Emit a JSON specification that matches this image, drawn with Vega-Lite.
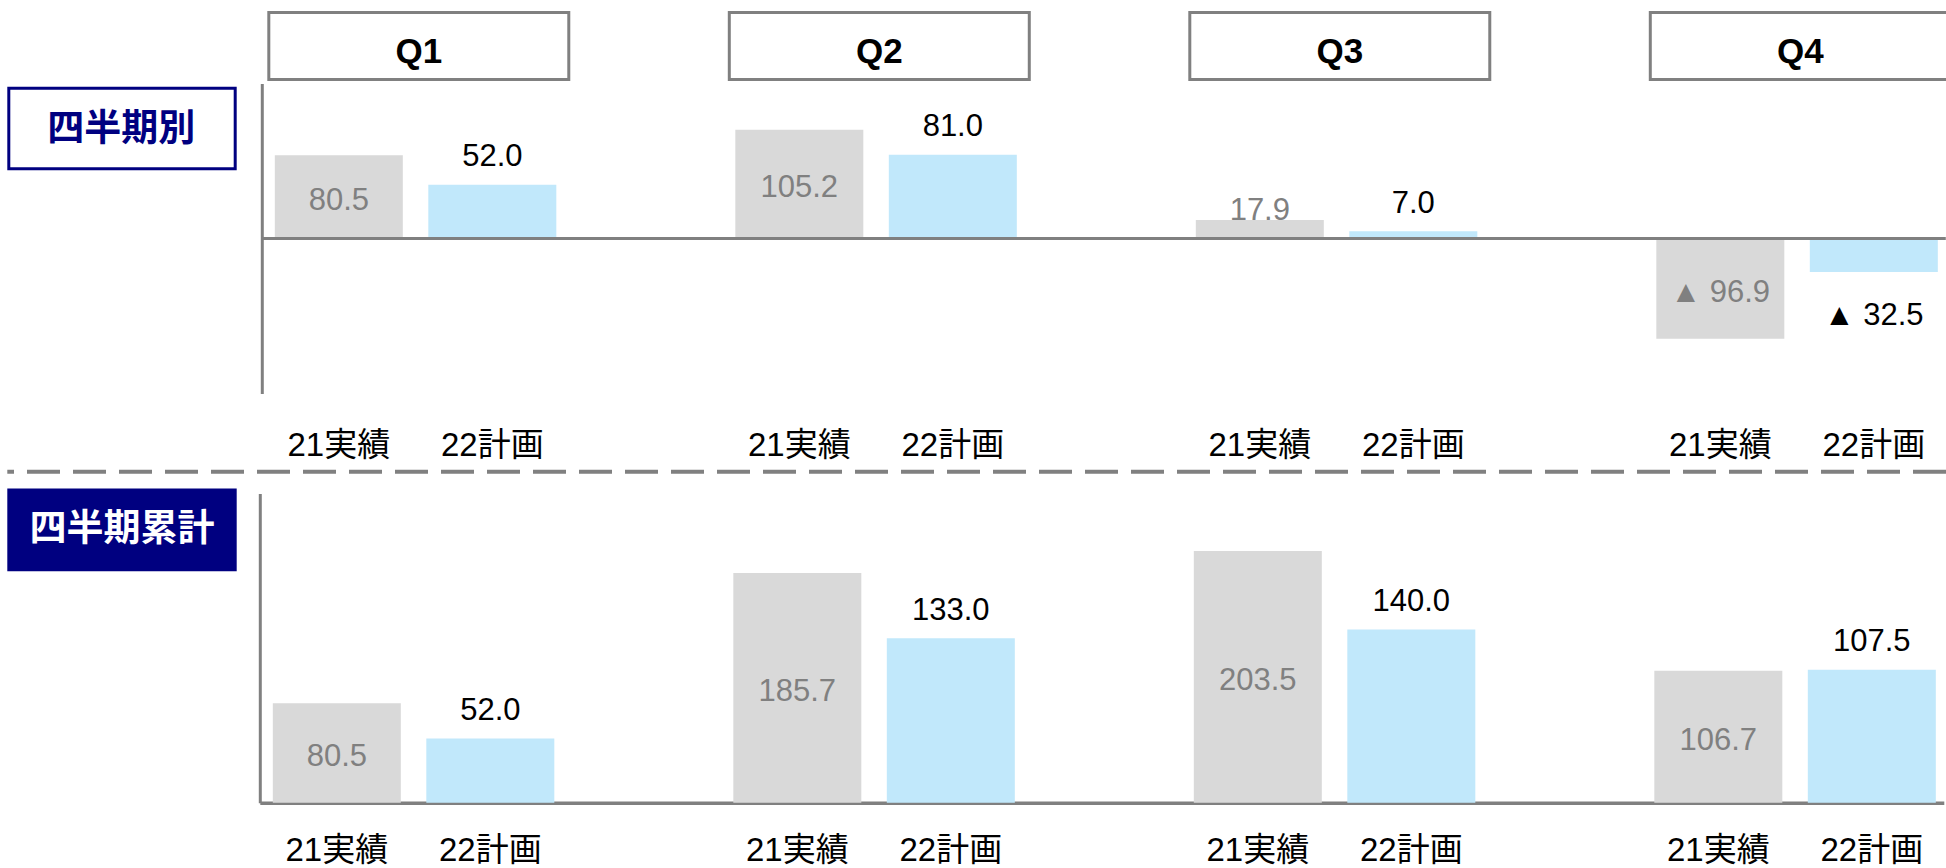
{
  "$schema": "https://vega.github.io/schema/vega-lite/v6.json",
  "background": "white",
  "padding": {"left": 5.3, "top": 11, "right": -5.2, "bottom": 0},
  "config": {"view": {"stroke": null}},
  "datasets": {
    "quarterly": [
      {"quarter": "Q1", "series": "21実績", "slot": "Q1|21実績", "value": 80.5, "label": "80.5"},
      {"quarter": "Q1", "series": "22計画", "slot": "Q1|22計画", "value": 52.0, "label": "52.0"},
      {"quarter": "Q2", "series": "21実績", "slot": "Q2|21実績", "value": 105.2, "label": "105.2"},
      {"quarter": "Q2", "series": "22計画", "slot": "Q2|22計画", "value": 81.0, "label": "81.0"},
      {"quarter": "Q3", "series": "21実績", "slot": "Q3|21実績", "value": 17.9, "label": "17.9"},
      {"quarter": "Q3", "series": "22計画", "slot": "Q3|22計画", "value": 7.0, "label": "7.0"},
      {"quarter": "Q4", "series": "21実績", "slot": "Q4|21実績", "value": -96.9, "label": "▲ 96.9"},
      {"quarter": "Q4", "series": "22計画", "slot": "Q4|22計画", "value": -32.5, "label": "▲ 32.5"}
    ],
    "cumulative": [
      {"quarter": "Q1", "series": "21実績", "slot": "Q1|21実績", "value": 80.5, "label": "80.5"},
      {"quarter": "Q1", "series": "22計画", "slot": "Q1|22計画", "value": 52.0, "label": "52.0"},
      {"quarter": "Q2", "series": "21実績", "slot": "Q2|21実績", "value": 185.7, "label": "185.7"},
      {"quarter": "Q2", "series": "22計画", "slot": "Q2|22計画", "value": 133.0, "label": "133.0"},
      {"quarter": "Q3", "series": "21実績", "slot": "Q3|21実績", "value": 203.5, "label": "203.5"},
      {"quarter": "Q3", "series": "22計画", "slot": "Q3|22計画", "value": 140.0, "label": "140.0"},
      {"quarter": "Q4", "series": "21実績", "slot": "Q4|21実績", "value": 106.7, "label": "106.7"},
      {"quarter": "Q4", "series": "22計画", "slot": "Q4|22計画", "value": 107.5, "label": "107.5"}
    ],
    "headers": [
      {"quarter": "Q1", "from": "Q1|21実績", "to": "Q1|22計画"},
      {"quarter": "Q2", "from": "Q2|21実績", "to": "Q2|22計画"},
      {"quarter": "Q3", "from": "Q3|21実績", "to": "Q3|22計画"},
      {"quarter": "Q4", "from": "Q4|21実績", "to": "Q4|22計画"}
    ]
  },
  "spacing": 2.5,
  "vconcat": [
    {
      "spacing": 22.5,
      "hconcat": [
        {"width": 229.4, "height": 60, "data": {"values": []}, "mark": {"type": "text", "text": ""}, "encoding": {}},
        {
          "width": 1685.5, "height": 68.5,
          "data": {"name": "headers"},
          "layer": [
            {
              "mark": {"type": "rect", "fill": "white", "stroke": "#808080", "strokeWidth": 3, "y": 1.5, "y2": "height", "xOffset": 1.5, "x2Offset": -1.5},
              "encoding": {
                "x": {"field": "from", "type": "nominal", "bandPosition": -0.0548, "scale": {"type": "band", "domain": ["Q1|21実績","Q1|22計画","Q1|","Q2|21実績","Q2|22計画","Q2|","Q3|21実績","Q3|22計画","Q3|","Q4|21実績","Q4|22計画"], "paddingInner": 0.1661, "paddingOuter": 0.0733, "align": 0.6453}, "axis": null},
                "x2": {"field": "to", "bandPosition": 1.113}
              }
            },
            {
              "mark": {"type": "text", "font": "Liberation Sans", "fontWeight": "bold", "fontSize": 35, "color": "#000000", "align": "center", "baseline": "alphabetic", "dy": 17.75},
              "encoding": {
                "x": {"field": "to", "type": "nominal", "bandPosition": -0.0705, "scale": {"type": "band", "domain": ["Q1|21実績","Q1|22計画","Q1|","Q2|21実績","Q2|22計画","Q2|","Q3|21実績","Q3|22計画","Q3|","Q4|21実績","Q4|22計画"], "paddingInner": 0.1661, "paddingOuter": 0.0733, "align": 0.6453}, "axis": null},
                "text": {"field": "quarter", "type": "nominal"}
              }
            }
          ]
        }
      ]
    },
    {
      "spacing": 22.5,
      "hconcat": [
        {
          "width": 227.9, "height": 85.2,
          "data": {"values": [{"panel": "四半期別"}]},
          "layer": [
            {"mark": {"type": "rect", "fill": "white", "stroke": "#000080", "strokeWidth": 3, "x": 1.5, "x2": "width", "y": 4.8, "y2": "height"}, "encoding": {}},
            {"mark": {"type": "text", "font": "Noto Sans CJK JP", "fontWeight": "bold", "fontSize": 37, "color": "#000080", "align": "center", "baseline": "middle", "dy": 3.7}, "encoding": {"text": {"field": "panel", "type": "nominal"}}}
          ]
        },
        {
          "width": 1684, "height": 310,
          "data": {"name": "quarterly"},
          "layer": [
            {
              "mark": {"type": "bar"},
              "encoding": {
                "x": {"field": "slot", "type": "nominal", "scale": {"type": "band", "domain": ["Q1|21実績","Q1|22計画","Q1|","Q2|21実績","Q2|22計画","Q2|","Q3|21実績","Q3|22計画","Q3|","Q4|21実績","Q4|22計画"], "paddingInner": 0.1661, "paddingOuter": 0.0684, "align": 0.62}, "axis": {"orient": "bottom", "domain": false, "ticks": false, "tickSize": 0, "grid": false, "title": null, "labelAngle": 0, "labelOverlap": false, "labelPadding": 36.3, "labelFont": "Liberation Sans, Noto Sans CJK JP", "labelFontSize": 33, "labelColor": "#000000", "labelExpr": "split(datum.value, '|')[1]"}},
                "y": {"field": "value", "type": "quantitative", "scale": {"domain": [-150, 150], "nice": false, "zero": false}, "axis": {"orient": "left", "domain": true, "domainColor": "#808080", "domainWidth": 3, "ticks": false, "tickSize": 0, "labels": false, "grid": false, "title": null}},
                "color": {"field": "series", "type": "nominal", "scale": {"domain": ["21実績", "22計画"], "range": ["#d9d9d9", "#c1e8fb"]}, "legend": null}
              }
            },
            {
              "data": {"values": [{"zero": 0}]},
              "mark": {"type": "rule", "color": "#808080", "strokeWidth": 3},
              "encoding": {
                "y": {"field": "zero", "type": "quantitative", "scale": {"domain": [-150, 150], "nice": false, "zero": false}, "axis": {"orient": "left", "domain": true, "domainColor": "#808080", "domainWidth": 3, "ticks": false, "tickSize": 0, "labels": false, "grid": false, "title": null}}
              }
            },
            {
              "transform": [{"filter": "datum.series == '21実績' && abs(datum.value) >= 30"}],
              "mark": {"type": "text", "font": "Liberation Sans", "fontSize": 31, "color": "#808080", "align": "center", "baseline": "middle", "dy": 4},
              "encoding": {
                "x": {"field": "slot", "type": "nominal", "scale": {"type": "band", "domain": ["Q1|21実績","Q1|22計画","Q1|","Q2|21実績","Q2|22計画","Q2|","Q3|21実績","Q3|22計画","Q3|","Q4|21実績","Q4|22計画"], "paddingInner": 0.1661, "paddingOuter": 0.0684, "align": 0.62}, "axis": {"orient": "bottom", "domain": false, "ticks": false, "tickSize": 0, "grid": false, "title": null, "labelAngle": 0, "labelOverlap": false, "labelPadding": 36.3, "labelFont": "Liberation Sans, Noto Sans CJK JP", "labelFontSize": 33, "labelColor": "#000000", "labelExpr": "split(datum.value, '|')[1]"}},
                "y": {"field": "value", "type": "quantitative", "stack": "zero", "bandPosition": 0.5, "scale": {"domain": [-150, 150], "nice": false, "zero": false}, "axis": {"orient": "left", "domain": true, "domainColor": "#808080", "domainWidth": 3, "ticks": false, "tickSize": 0, "labels": false, "grid": false, "title": null}},
                "text": {"field": "label", "type": "nominal"}
              }
            },
            {
              "transform": [{"filter": "datum.series == '21実績' && abs(datum.value) < 30"}],
              "mark": {"type": "text", "font": "Liberation Sans", "fontSize": 31, "color": "#808080", "align": "center", "baseline": "alphabetic", "dy": 0},
              "encoding": {
                "x": {"field": "slot", "type": "nominal", "scale": {"type": "band", "domain": ["Q1|21実績","Q1|22計画","Q1|","Q2|21実績","Q2|22計画","Q2|","Q3|21実績","Q3|22計画","Q3|","Q4|21実績","Q4|22計画"], "paddingInner": 0.1661, "paddingOuter": 0.0684, "align": 0.62}, "axis": {"orient": "bottom", "domain": false, "ticks": false, "tickSize": 0, "grid": false, "title": null, "labelAngle": 0, "labelOverlap": false, "labelPadding": 36.3, "labelFont": "Liberation Sans, Noto Sans CJK JP", "labelFontSize": 33, "labelColor": "#000000", "labelExpr": "split(datum.value, '|')[1]"}},
                "y": {"field": "value", "type": "quantitative", "scale": {"domain": [-150, 150], "nice": false, "zero": false}, "axis": {"orient": "left", "domain": true, "domainColor": "#808080", "domainWidth": 3, "ticks": false, "tickSize": 0, "labels": false, "grid": false, "title": null}},
                "text": {"field": "label", "type": "nominal"}
              }
            },
            {
              "transform": [{"filter": "datum.series == '22計画' && datum.value >= 0"}],
              "mark": {"type": "text", "font": "Liberation Sans", "fontSize": 31, "color": "#000000", "align": "center", "baseline": "alphabetic", "dy": -18.5},
              "encoding": {
                "x": {"field": "slot", "type": "nominal", "scale": {"type": "band", "domain": ["Q1|21実績","Q1|22計画","Q1|","Q2|21実績","Q2|22計画","Q2|","Q3|21実績","Q3|22計画","Q3|","Q4|21実績","Q4|22計画"], "paddingInner": 0.1661, "paddingOuter": 0.0684, "align": 0.62}, "axis": {"orient": "bottom", "domain": false, "ticks": false, "tickSize": 0, "grid": false, "title": null, "labelAngle": 0, "labelOverlap": false, "labelPadding": 36.3, "labelFont": "Liberation Sans, Noto Sans CJK JP", "labelFontSize": 33, "labelColor": "#000000", "labelExpr": "split(datum.value, '|')[1]"}},
                "y": {"field": "value", "type": "quantitative", "scale": {"domain": [-150, 150], "nice": false, "zero": false}, "axis": {"orient": "left", "domain": true, "domainColor": "#808080", "domainWidth": 3, "ticks": false, "tickSize": 0, "labels": false, "grid": false, "title": null}},
                "text": {"field": "label", "type": "nominal"}
              }
            },
            {
              "transform": [{"filter": "datum.series == '22計画' && datum.value < 0"}],
              "mark": {"type": "text", "font": "Liberation Sans", "fontSize": 31, "color": "#000000", "align": "center", "baseline": "alphabetic", "dy": 53},
              "encoding": {
                "x": {"field": "slot", "type": "nominal", "scale": {"type": "band", "domain": ["Q1|21実績","Q1|22計画","Q1|","Q2|21実績","Q2|22計画","Q2|","Q3|21実績","Q3|22計画","Q3|","Q4|21実績","Q4|22計画"], "paddingInner": 0.1661, "paddingOuter": 0.0684, "align": 0.62}, "axis": {"orient": "bottom", "domain": false, "ticks": false, "tickSize": 0, "grid": false, "title": null, "labelAngle": 0, "labelOverlap": false, "labelPadding": 36.3, "labelFont": "Liberation Sans, Noto Sans CJK JP", "labelFontSize": 33, "labelColor": "#000000", "labelExpr": "split(datum.value, '|')[1]"}},
                "y": {"field": "value", "type": "quantitative", "scale": {"domain": [-150, 150], "nice": false, "zero": false}, "axis": {"orient": "left", "domain": true, "domainColor": "#808080", "domainWidth": 3, "ticks": false, "tickSize": 0, "labels": false, "grid": false, "title": null}},
                "text": {"field": "label", "type": "nominal"}
              }
            }
          ]
        }
      ]
    },
    {
      "width": 1938.7, "height": 19.7,
      "data": {"values": [{"sep": 0}]},
      "mark": {"type": "rule", "color": "#808080", "strokeWidth": 4, "strokeDash": [33, 13], "yOffset": -4.15},
      "encoding": {"y": {"field": "sep", "type": "quantitative", "scale": {"domain": [-1, 1]}, "axis": null}}
    },
    {
      "spacing": 22.5,
      "hconcat": [
        {
          "width": 229.4, "height": 77.7,
          "data": {"values": [{"panel": "四半期累計"}]},
          "layer": [
            {"mark": {"type": "rect", "fill": "#000080", "x": 0, "x2": "width", "y": -5, "y2": "height"}, "encoding": {}},
            {"mark": {"type": "text", "font": "Noto Sans CJK JP", "fontWeight": "bold", "fontSize": 37, "color": "#ffffff", "align": "center", "baseline": "middle", "dy": -1.85}, "encoding": {"text": {"field": "panel", "type": "nominal"}}}
          ]
        },
        {
          "width": 1684, "height": 309.3,
          "data": {"name": "cumulative"},
          "layer": [
            {
              "mark": {"type": "bar"},
              "encoding": {
                "x": {"field": "slot", "type": "nominal", "scale": {"type": "band", "domain": ["Q1|21実績","Q1|22計画","Q1|","Q2|21実績","Q2|22計画","Q2|","Q3|21実績","Q3|22計画","Q3|","Q4|21実績","Q4|22計画"], "paddingInner": 0.1661, "paddingOuter": 0.0684, "align": 0.62}, "axis": {"orient": "bottom", "domain": true, "domainColor": "#808080", "domainWidth": 3.5, "ticks": false, "tickSize": 0, "grid": false, "title": null, "labelAngle": 0, "labelOverlap": false, "labelPadding": 31.7, "labelFont": "Liberation Sans, Noto Sans CJK JP", "labelFontSize": 33, "labelColor": "#000000", "labelExpr": "split(datum.value, '|')[1]"}},
                "y": {"field": "value", "type": "quantitative", "scale": {"domain": [0, 250], "nice": false, "zero": false}, "axis": {"orient": "left", "domain": true, "domainColor": "#808080", "domainWidth": 3, "ticks": false, "tickSize": 0, "labels": false, "grid": false, "title": null}},
                "color": {"field": "series", "type": "nominal", "scale": {"domain": ["21実績", "22計画"], "range": ["#d9d9d9", "#c1e8fb"]}, "legend": null}
              }
            },
            {
              "transform": [{"filter": "datum.series == '21実績' && abs(datum.value) >= 30"}],
              "mark": {"type": "text", "font": "Liberation Sans", "fontSize": 31, "color": "#808080", "align": "center", "baseline": "middle", "dy": 4},
              "encoding": {
                "x": {"field": "slot", "type": "nominal", "scale": {"type": "band", "domain": ["Q1|21実績","Q1|22計画","Q1|","Q2|21実績","Q2|22計画","Q2|","Q3|21実績","Q3|22計画","Q3|","Q4|21実績","Q4|22計画"], "paddingInner": 0.1661, "paddingOuter": 0.0684, "align": 0.62}, "axis": {"orient": "bottom", "domain": true, "domainColor": "#808080", "domainWidth": 3.5, "ticks": false, "tickSize": 0, "grid": false, "title": null, "labelAngle": 0, "labelOverlap": false, "labelPadding": 31.7, "labelFont": "Liberation Sans, Noto Sans CJK JP", "labelFontSize": 33, "labelColor": "#000000", "labelExpr": "split(datum.value, '|')[1]"}},
                "y": {"field": "value", "type": "quantitative", "stack": "zero", "bandPosition": 0.5, "scale": {"domain": [0, 250], "nice": false, "zero": false}, "axis": {"orient": "left", "domain": true, "domainColor": "#808080", "domainWidth": 3, "ticks": false, "tickSize": 0, "labels": false, "grid": false, "title": null}},
                "text": {"field": "label", "type": "nominal"}
              }
            },
            {
              "transform": [{"filter": "datum.series == '22計画' && datum.value >= 0"}],
              "mark": {"type": "text", "font": "Liberation Sans", "fontSize": 31, "color": "#000000", "align": "center", "baseline": "alphabetic", "dy": -18.5},
              "encoding": {
                "x": {"field": "slot", "type": "nominal", "scale": {"type": "band", "domain": ["Q1|21実績","Q1|22計画","Q1|","Q2|21実績","Q2|22計画","Q2|","Q3|21実績","Q3|22計画","Q3|","Q4|21実績","Q4|22計画"], "paddingInner": 0.1661, "paddingOuter": 0.0684, "align": 0.62}, "axis": {"orient": "bottom", "domain": true, "domainColor": "#808080", "domainWidth": 3.5, "ticks": false, "tickSize": 0, "grid": false, "title": null, "labelAngle": 0, "labelOverlap": false, "labelPadding": 31.7, "labelFont": "Liberation Sans, Noto Sans CJK JP", "labelFontSize": 33, "labelColor": "#000000", "labelExpr": "split(datum.value, '|')[1]"}},
                "y": {"field": "value", "type": "quantitative", "scale": {"domain": [0, 250], "nice": false, "zero": false}, "axis": {"orient": "left", "domain": true, "domainColor": "#808080", "domainWidth": 3, "ticks": false, "tickSize": 0, "labels": false, "grid": false, "title": null}},
                "text": {"field": "label", "type": "nominal"}
              }
            }
          ]
        }
      ]
    }
  ]
}
